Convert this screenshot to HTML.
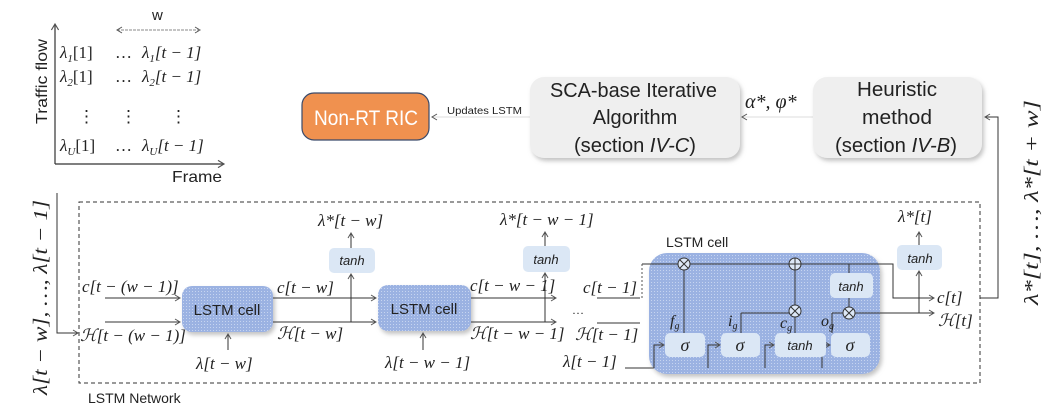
<!DOCTYPE html>
<html><head><meta charset="utf-8"><style>
body{margin:0;background:#fff}
svg{display:block}
text{font-family:"Liberation Serif",serif;fill:#222}
.s{font-family:"Liberation Sans",sans-serif}
.it{font-style:italic}
</style></head><body>
<svg width="1053" height="409" viewBox="0 0 1053 409" xmlns="http://www.w3.org/2000/svg">
<defs>
<marker id="a" markerWidth="8" markerHeight="8" refX="6" refY="4" orient="auto"><path d="M1,1 L6,4 L1,7" fill="none" stroke="#555" stroke-width="1"/></marker>
<pattern id="dots" width="3" height="3" patternUnits="userSpaceOnUse"><rect width="3" height="3" fill="#9bb2e2"/><rect width="1" height="1" fill="#c6d4f0"/></pattern>
<filter id="sh" x="-10%" y="-10%" width="130%" height="130%"><feDropShadow dx="2" dy="3" stdDeviation="2" flood-color="#888" flood-opacity="0.5"/></filter>
</defs>

<!-- axis -->
<line x1="55" y1="164" x2="55" y2="24" stroke="#333" stroke-width="1.2" marker-end="url(#a)"/>
<line x1="55" y1="164" x2="224" y2="164" stroke="#333" stroke-width="1.2" marker-end="url(#a)"/>
<text class="s" x="0" y="0" font-size="16" textLength="85" lengthAdjust="spacingAndGlyphs" transform="translate(47,124) rotate(-90)">Traffic flow</text>
<text class="s" x="172" y="182" font-size="16" textLength="50" lengthAdjust="spacingAndGlyphs">Frame</text>
<text class="s" x="152" y="20" font-size="15">w</text>
<line x1="117" y1="30" x2="200" y2="30" stroke="#888" stroke-dasharray="2,2" marker-end="url(#a)"/>
<line x1="200" y1="30" x2="117" y2="30" stroke="#888" stroke-dasharray="2,2" marker-end="url(#a)"/>
<g font-size="17">
<text x="60" y="58" class="it">λ<tspan font-size="11" dy="4">1</tspan><tspan dy="-4" font-style="normal">[1]</tspan></text>
<text x="115" y="58">…</text>
<text x="142" y="58" class="it">λ<tspan font-size="11" dy="4">1</tspan><tspan dy="-4">[t − 1]</tspan></text>
<text x="60" y="82" class="it">λ<tspan font-size="11" dy="4">2</tspan><tspan dy="-4" font-style="normal">[1]</tspan></text>
<text x="115" y="82">…</text>
<text x="142" y="82" class="it">λ<tspan font-size="11" dy="4">2</tspan><tspan dy="-4">[t − 1]</tspan></text>
<text x="78" y="122">⋮</text><text x="120" y="122">⋮</text><text x="170" y="122">⋮</text>
<text x="60" y="151" class="it">λ<tspan font-size="11" dy="4">U</tspan><tspan dy="-4" font-style="normal">[1]</tspan></text>
<text x="115" y="151">…</text>
<text x="142" y="151" class="it">λ<tspan font-size="11" dy="4">U</tspan><tspan dy="-4">[t − 1]</tspan></text>
</g>

<!-- top boxes -->
<rect x="302" y="93" width="127" height="47" rx="12" fill="#f0914f" stroke="#3a4a6a" stroke-width="1.2"/>
<text class="s" x="314" y="125" font-size="21" textLength="104" lengthAdjust="spacingAndGlyphs" style="fill:#fff">Non-RT RIC</text>
<text class="s" x="447" y="114" font-size="10" textLength="75" lengthAdjust="spacingAndGlyphs">Updates LSTM</text>
<line x1="530" y1="117" x2="432" y2="117" stroke="#ddd" marker-end="url(#a)"/>
<rect x="530" y="77" width="210" height="81" rx="14" fill="#efefef" filter="url(#sh)"/>
<g font-size="20">
<text x="550" y="97" class="s" textLength="167" lengthAdjust="spacingAndGlyphs">SCA-base Iterative</text>
<text x="635" y="124" class="s" text-anchor="middle">Algorithm</text>
<text x="574" y="152" class="s" textLength="122" lengthAdjust="spacingAndGlyphs">(section <tspan font-style="italic">IV-C</tspan>)</text>
</g>
<text x="745" y="108" font-size="20" class="it">α*, φ*</text>
<line x1="813" y1="117" x2="742" y2="117" stroke="#ddd" marker-end="url(#a)"/>
<rect x="813" y="77" width="169" height="81" rx="14" fill="#efefef" filter="url(#sh)"/>
<g font-size="20">
<text x="857" y="96" class="s" textLength="80" lengthAdjust="spacingAndGlyphs">Heuristic</text>
<text x="862" y="124" class="s" textLength="70" lengthAdjust="spacingAndGlyphs">method</text>
<text x="835" y="152" class="s" textLength="122" lengthAdjust="spacingAndGlyphs">(section <tspan font-style="italic">IV-B</tspan>)</text>
</g>
<polyline points="980,298 998,298 998,117 985,117" fill="none" stroke="#333" marker-end="url(#a)"/>
<text x="0" y="0" font-size="20" class="it" textLength="205" lengthAdjust="spacingAndGlyphs" transform="translate(1038,305) rotate(-90)">λ*[t], …, λ*[t + w]</text>

<!-- left input -->
<text x="0" y="0" font-size="20" class="it" textLength="195" lengthAdjust="spacingAndGlyphs" transform="translate(47,395) rotate(-90)">λ[t − w], …, λ[t − 1]</text>
<polyline points="57,193 57,333 78,333" fill="none" stroke="#333" marker-end="url(#a)"/>

<!-- network dashed box -->
<rect x="79" y="202" width="901" height="181" fill="none" stroke="#333" stroke-dasharray="4,3"/>
<text class="s" x="88" y="403" font-size="14">LSTM Network</text>

<!-- cell 1 -->
<line x1="105" y1="298" x2="180" y2="298" stroke="#333" marker-end="url(#a)"/>
<line x1="105" y1="322" x2="180" y2="322" stroke="#333" marker-end="url(#a)"/>
<text x="82" y="292" font-size="17" class="it">c[t − (w − 1)]</text>
<text x="80" y="341" font-size="17" class="it">ℋ[t − (w − 1)]</text>
<rect x="182" y="286" width="91" height="46" rx="10" fill="url(#dots)" filter="url(#sh)"/>
<text class="s" x="227" y="315" font-size="15" text-anchor="middle">LSTM cell</text>
<line x1="228" y1="350" x2="228" y2="334" stroke="#333" marker-end="url(#a)"/>
<text x="196" y="369" font-size="17" class="it">λ[t − w]</text>
<line x1="273" y1="298" x2="376" y2="298" stroke="#333" marker-end="url(#a)"/>
<line x1="273" y1="322" x2="376" y2="322" stroke="#333" marker-end="url(#a)"/>
<text x="277" y="293" font-size="17" class="it">c[t − w]</text>
<text x="277" y="339" font-size="17" class="it">ℋ[t − w]</text>
<line x1="351" y1="322" x2="351" y2="274" stroke="#333" marker-end="url(#a)"/>
<rect x="329" y="248" width="46" height="25" rx="5" fill="#dbe7f5"/>
<text x="352" y="265" font-size="13" text-anchor="middle" class="it s">tanh</text>
<line x1="351" y1="248" x2="351" y2="233" stroke="#333" marker-end="url(#a)"/>
<text x="318" y="226" font-size="17" class="it">λ*[t − w]</text>

<!-- cell 2 -->
<rect x="378" y="285" width="93" height="46" rx="10" fill="url(#dots)" filter="url(#sh)"/>
<text class="s" x="424" y="314" font-size="15" text-anchor="middle">LSTM cell</text>
<line x1="423" y1="350" x2="423" y2="333" stroke="#333" marker-end="url(#a)"/>
<text x="385" y="368" font-size="17" class="it">λ[t − w − 1]</text>
<line x1="471" y1="298" x2="556" y2="298" stroke="#333" marker-end="url(#a)"/>
<line x1="471" y1="322" x2="556" y2="322" stroke="#333" marker-end="url(#a)"/>
<text x="470" y="291" font-size="17" class="it">c[t − w − 1]</text>
<text x="470" y="339" font-size="17" class="it">ℋ[t − w − 1]</text>
<line x1="545" y1="322" x2="545" y2="273" stroke="#333" marker-end="url(#a)"/>
<rect x="523" y="246" width="47" height="26" rx="5" fill="#dbe7f5"/>
<text x="546" y="264" font-size="13" text-anchor="middle" class="it s">tanh</text>
<line x1="545" y1="246" x2="545" y2="232" stroke="#333" marker-end="url(#a)"/>
<text x="500" y="225" font-size="17" class="it">λ*[t − w − 1]</text>

<!-- cell 3 inputs -->
<text x="583" y="293" font-size="17" class="it">c[t − 1]</text>
<line x1="597" y1="298" x2="640" y2="298" stroke="#333"/>
<text x="572" y="314" font-size="12">…</text>
<line x1="597" y1="323" x2="640" y2="323" stroke="#333"/>
<text x="575" y="340" font-size="17" class="it">ℋ[t − 1]</text>
<text x="563" y="367" font-size="17" class="it">λ[t − 1]</text>
<line x1="625" y1="368" x2="822" y2="368" stroke="#333"/>

<!-- big cell -->
<text class="s" x="666" y="247" font-size="14">LSTM cell</text>
<rect x="649" y="253" width="231" height="121" rx="18" fill="url(#dots)" filter="url(#sh)"/>
<polyline points="642,264 893,264 893,298 934,298" fill="none" stroke="#333" marker-end="url(#a)"/>
<line x1="642" y1="264" x2="642" y2="300" stroke="#555" stroke-dasharray="2,2"/>
<polyline points="849,313 934,313" fill="none" stroke="#333" marker-end="url(#a)"/>
<text x="937" y="303" font-size="17" class="it">c[t]</text>
<text x="938" y="326" font-size="17" class="it">ℋ[t]</text>
<line x1="919" y1="313" x2="919" y2="271" stroke="#333" marker-end="url(#a)"/>
<rect x="897" y="245" width="45" height="25" rx="5" fill="#dbe7f5"/>
<text x="920" y="263" font-size="13" text-anchor="middle" class="it s">tanh</text>
<line x1="919" y1="245" x2="919" y2="232" stroke="#333" marker-end="url(#a)"/>
<text x="898" y="222" font-size="17" class="it">λ*[t]</text>

<g stroke="#333" fill="none">
<line x1="684" y1="333" x2="684" y2="270"/>
<line x1="741" y1="333" x2="741" y2="313"/><line x1="741" y1="313" x2="790" y2="313"/>
<line x1="795" y1="333" x2="795" y2="317"/>
<line x1="795" y1="306" x2="795" y2="270"/>
<line x1="849" y1="298" x2="849" y2="307"/>
<line x1="849" y1="264" x2="849" y2="273"/>
<line x1="832" y1="333" x2="832" y2="313"/><line x1="832" y1="313" x2="843" y2="313"/>
<polyline points="654,368 654,345 664,345" marker-end="url(#a)"/>
<polyline points="708,368 708,345 720,345" marker-end="url(#a)"/>
<polyline points="765,368 765,345 774,345" marker-end="url(#a)"/>
<polyline points="822,368 822,345 830,345" marker-end="url(#a)"/>
</g>
<g fill="#dde8f7" stroke="#333">
<circle cx="684" cy="264" r="6"/><circle cx="795" cy="264" r="6"/><circle cx="795" cy="311" r="6"/><circle cx="849" cy="313" r="6"/>
</g>
<g stroke="#333">
<path d="M680,260 L688,268 M688,260 L680,268"/>
<path d="M789,264 L801,264 M795,258 L795,270"/>
<path d="M791,307 L799,315 M799,307 L791,315"/>
<path d="M845,309 L853,317 M853,309 L845,317"/>
</g>
<g fill="#dbe7f5">
<rect x="665" y="333" width="40" height="24" rx="5"/>
<rect x="721" y="333" width="39" height="24" rx="5"/>
<rect x="775" y="333" width="51" height="24" rx="5"/>
<rect x="831" y="333" width="39" height="24" rx="5"/>
<rect x="830" y="273" width="43" height="25" rx="5"/>
</g>
<g font-size="18" class="it" text-anchor="middle">
<text x="685" y="351">σ</text><text x="740" y="351">σ</text><text x="850" y="351">σ</text>
</g>
<text x="800" y="350" font-size="13" class="it s" text-anchor="middle">tanh</text>
<text x="851" y="291" font-size="13" class="it s" text-anchor="middle">tanh</text>
<g font-size="16" class="it">
<text x="670" y="326">f<tspan font-size="10" dy="3">g</tspan></text>
<text x="728" y="326">i<tspan font-size="10" dy="3">g</tspan></text>
<text x="780" y="328">c<tspan font-size="10" dy="3">g</tspan></text>
<text x="821" y="326">o<tspan font-size="10" dy="3">g</tspan></text>
</g>
</svg>
</body></html>
